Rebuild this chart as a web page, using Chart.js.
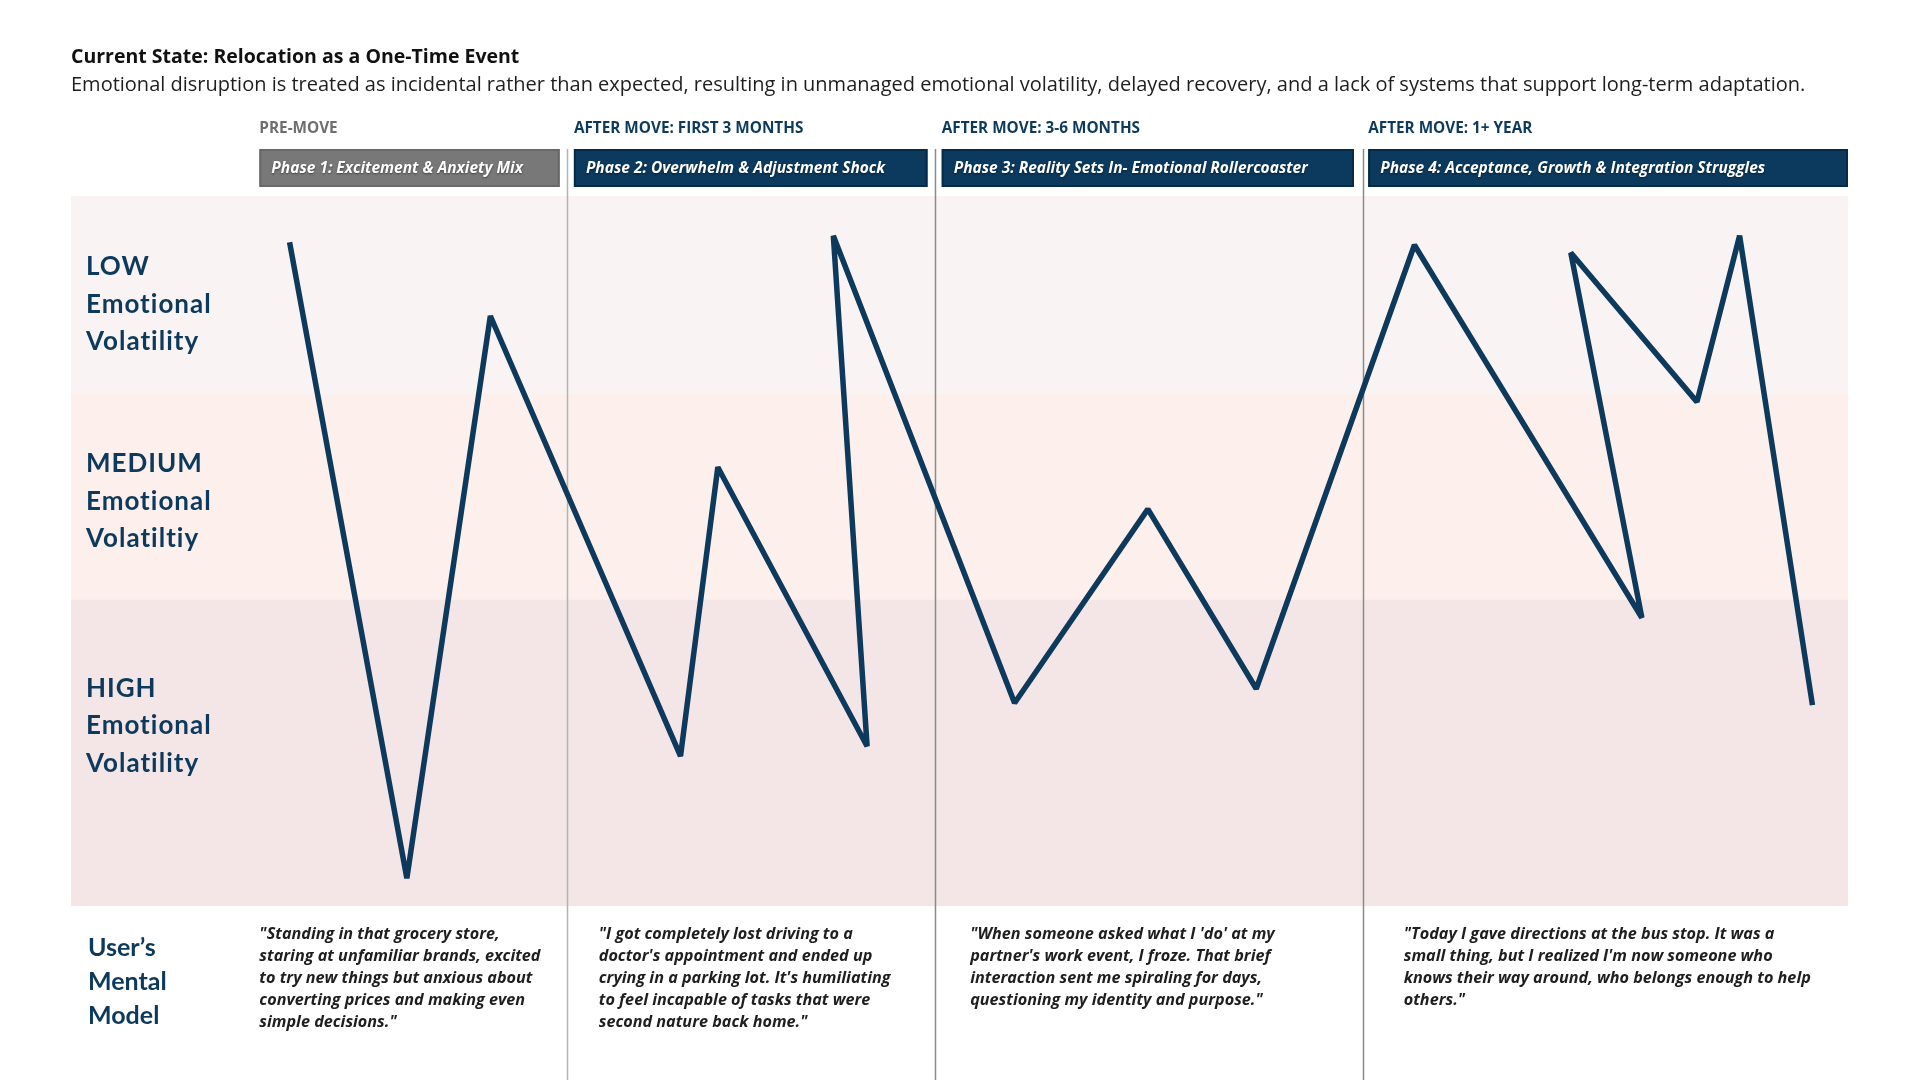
<!DOCTYPE html>
<html>
<head>
<meta charset="utf-8">
<title>Current State: Relocation as a One-Time Event</title>
<script src="https://cdn.jsdelivr.net/npm/chart.js@4.4.1/dist/chart.umd.min.js"></script>
<style>
    html, body { margin: 0; padding: 0; background: #ffffff; }
    #wrap { width: 1920px; height: 1080px; position: relative; }
</style>
</head>
<body>
<div id="wrap"><canvas id="journeyChart"></canvas></div>
<script>
// Timeline runs 0-100 across the band area, stability runs 0 (high volatility) to 100 (low volatility)
const titleText = 'Current State: Relocation as a One-Time Event';
const subtitleText = 'Emotional disruption is treated as incidental rather than expected, resulting in unmanaged emotional volatility, delayed recovery, and a lack of systems that support long-term adaptation.';

const phaseLabels = ['PRE-MOVE', 'AFTER MOVE: FIRST 3 MONTHS', 'AFTER MOVE: 3-6 MONTHS', 'AFTER MOVE: 1+ YEAR'];
const phaseNames = [
    'Phase 1: Excitement & Anxiety Mix',
    'Phase 2: Overwhelm & Adjustment Shock',
    'Phase 3: Reality Sets In- Emotional Rollercoaster',
    'Phase 4: Acceptance, Growth & Integration Struggles'
];
const phaseStart = [10.6, 28.3, 49.0, 73.0];
const phaseEnd = [27.5, 48.2, 72.2, 100];
const dividers = [27.9, 48.6, 72.7];

const bandNames = [
    ['HIGH', 'Emotional', 'Volatility'],
    ['MEDIUM', 'Emotional', 'Volatiltiy'],
    ['LOW', 'Emotional', 'Volatility']
];
const bandEdges = [0, 43.2, 72.1, 100];

const journeyX = [12.3, 18.9, 23.6, 34.3, 36.4, 44.8, 42.9, 53.1, 60.6, 66.7, 75.6, 88.4, 84.4, 91.5, 93.9, 98.0];
const journeyY = [93.5, 3.9, 83.1, 21.1, 61.8, 22.5, 94.4, 28.6, 55.9, 30.6, 93.1, 40.6, 92.0, 71.0, 94.4, 28.3];

const modelLabel = ['User\u2019s', 'Mental', 'Model'];
const quoteAt = [10.6, 29.7, 50.6, 75.0];
const quotes = [
    ['"Standing in that grocery store,', 'staring at unfamiliar brands, excited', 'to try new things but anxious about', 'converting prices and making even', 'simple decisions."'],
    ['"I got completely lost driving to a', 'doctor\'s appointment and ended up', 'crying in a parking lot. It\'s humiliating', 'to feel incapable of tasks that were', 'second nature back home."'],
    ['"When someone asked what I \'do\' at my', 'partner\'s work event, I froze. That brief', 'interaction sent me spiraling for days,', 'questioning my identity and purpose."'],
    ['"Today I gave directions at the bus stop. It was a', 'small thing, but I realized I\'m now someone who', 'knows their way around, who belongs enough to help', 'others."']
];

const NAVY = '#0d3a5c';
const HEAD_FONT = 'Lato, "Open Sans", sans-serif';
const BODY_FONT = '"Open Sans", Lato, sans-serif';

const journeyDecor = {
    id: 'journeyDecor',
    beforeDatasetsDraw: function(chart) {
        const ctx = chart.ctx;
        const xs = chart.scales.x;
        const ys = chart.scales.y;
        const area = chart.chartArea;
        const bandColors = ['#f4e6e6', '#fcefec', '#f9f4f3'];
        const labelOffset = [89, 70, 71];

        ctx.save();
        // Volatility bands
        for (let i = 0; i < bandNames.length; i++) {
            const top = ys.getPixelForValue(bandEdges[i + 1]);
            const bottom = ys.getPixelForValue(bandEdges[i]);
            ctx.fillStyle = bandColors[i];
            ctx.fillRect(area.left, top, area.right - area.left, bottom - top);

            ctx.fillStyle = NAVY;
            ctx.font = 'bold 26px ' + HEAD_FONT;
            ctx.letterSpacing = '1px';
            ctx.textBaseline = 'middle';
            ctx.textAlign = 'left';
            bandNames[i].forEach(function(line, j) {
                ctx.fillText(line, area.left + 15, top + labelOffset[i] + j * 37.5);
            });
            ctx.letterSpacing = '0px';
        }

        // Phase dividers run from the phase boxes down to the bottom
        const dividerColors = ['#b3b3b3', '#8a8a8a', '#8a8a8a'];
        dividers.forEach(function(d, i) {
            const px = Math.round(xs.getPixelForValue(d)) + 0.5;
            ctx.strokeStyle = dividerColors[i];
            ctx.lineWidth = 1.5;
            ctx.beginPath();
            ctx.moveTo(px, 149);
            ctx.lineTo(px, chart.height);
            ctx.stroke();
        });
        ctx.restore();
    },
    afterDraw: function(chart) {
        const ctx = chart.ctx;
        const xs = chart.scales.x;
        const area = chart.chartArea;

        ctx.save();
        ctx.textAlign = 'left';
        ctx.textBaseline = 'middle';

        // Title and subtitle
        ctx.fillStyle = '#111111';
        ctx.font = 'bold 19.5px ' + BODY_FONT;
        ctx.fillText(titleText, area.left, 57);
        ctx.fillStyle = '#1e1e1e';
        ctx.font = '20px ' + BODY_FONT;
        ctx.fillText(subtitleText, area.left, 85);

        // Phase headers and boxes
        for (let i = 0; i < phaseNames.length; i++) {
            const left = xs.getPixelForValue(phaseStart[i]);
            const right = xs.getPixelForValue(phaseEnd[i]);
            const grey = i === 0;

            ctx.fillStyle = grey ? '#6e6e6e' : NAVY;
            ctx.font = 'bold 15.3px ' + BODY_FONT;
            ctx.fillText(phaseLabels[i], left, 129);

            ctx.fillStyle = grey ? '#787878' : '#0b3a5e';
            ctx.fillRect(left, 149, right - left, 38);
            ctx.strokeStyle = grey ? '#686868' : '#062b48';
            ctx.lineWidth = 2;
            ctx.strokeRect(left + 1, 150, right - left - 2, 36);

            ctx.save();
            ctx.shadowColor = 'rgba(0,0,0,0.45)';
            ctx.shadowBlur = 2;
            ctx.shadowOffsetY = 1;
            ctx.fillStyle = '#ffffff';
            ctx.font = 'italic bold 15.5px ' + BODY_FONT;
            ctx.fillText(phaseNames[i], left + 12, 169);
            ctx.restore();
        }

        // User's mental model row
        ctx.fillStyle = NAVY;
        ctx.font = 'bold 25px ' + HEAD_FONT;
        modelLabel.forEach(function(line, j) {
            ctx.fillText(line, area.left + 17, 948 + j * 34);
        });

        ctx.fillStyle = '#1e1e1e';
        ctx.font = 'italic bold 16.2px ' + BODY_FONT;
        quotes.forEach(function(lines, i) {
            const qx = xs.getPixelForValue(quoteAt[i]);
            lines.forEach(function(line, j) {
                ctx.fillText(line, qx, 934 + j * 22);
            });
        });
        ctx.restore();
    }
};

const ctx = document.getElementById('journeyChart').getContext('2d');
const journeyChart = new Chart(ctx, {
    type: 'scatter',
    data: {
        datasets: [{
            label: 'Emotional volatility',
            data: journeyX.map(function(x, i) { return { x: x, y: journeyY[i] }; }),
            showLine: true,
            borderColor: NAVY,
            borderWidth: 5.5,
            borderJoinStyle: 'bevel',
            borderCapStyle: 'butt',
            pointRadius: 0,
            pointHoverRadius: 0,
            tension: 0,
            fill: false
        }]
    },
    options: {
        responsive: true,
        maintainAspectRatio: false,
        animation: false,
        layout: {
            padding: { left: 71, right: 72, top: 196, bottom: 174 }
        },
        scales: {
            x: { type: 'linear', min: 0, max: 100, display: false },
            y: { type: 'linear', min: 0, max: 100, display: false }
        },
        plugins: {
            legend: { display: false },
            tooltip: { enabled: false },
            title: { display: false }
        }
    },
    plugins: [journeyDecor]
});
</script>
</body>
</html>
